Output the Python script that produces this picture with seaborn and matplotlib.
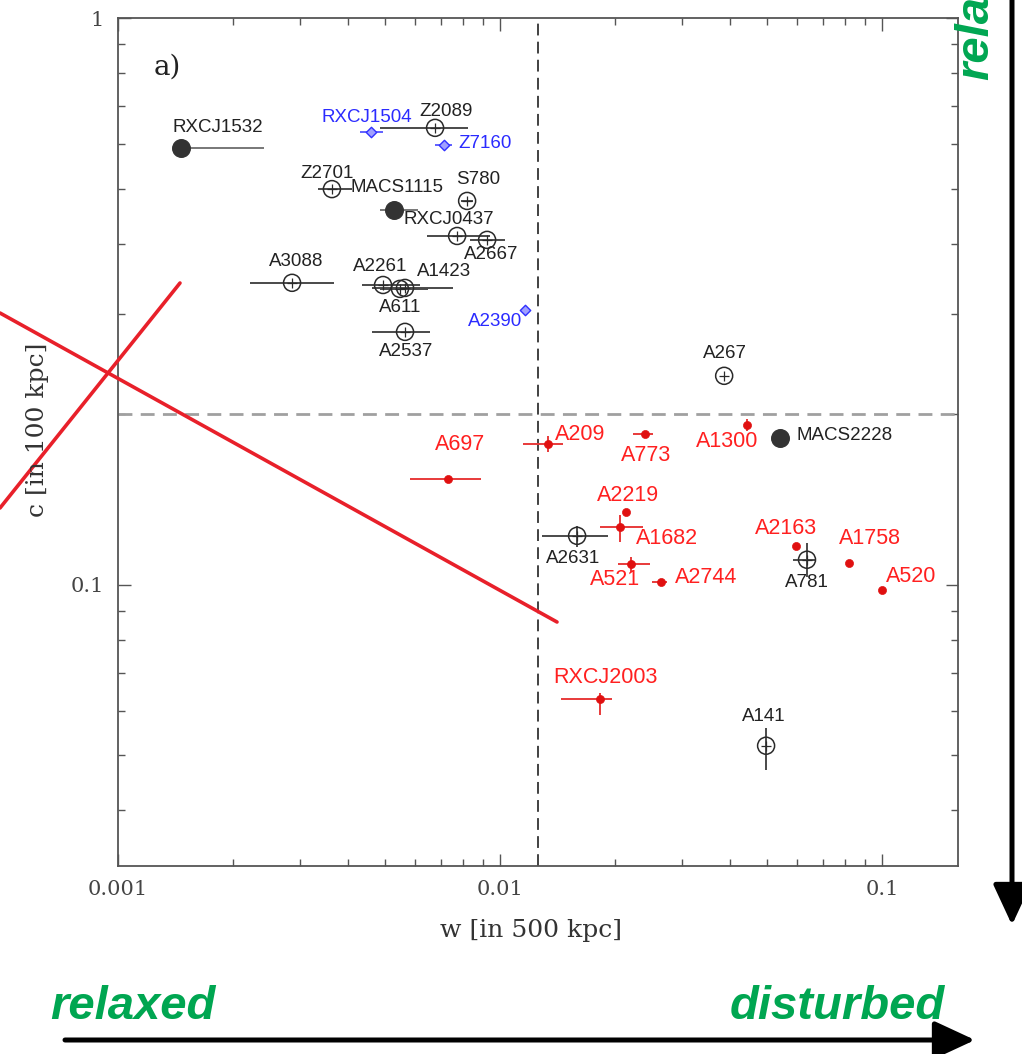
import numpy as np
import pandas as pd
import seaborn as sns
import matplotlib.pyplot as plt
from matplotlib.patches import FancyArrowPatch
from matplotlib.lines import Line2D
from matplotlib.ticker import FixedLocator, FixedFormatter, LogLocator, NullFormatter

# cluster data: w (centroid shift), c (concentration)
names = ["RXCJ1532", "RXCJ1504", "Z2089", "Z7160", "Z2701", "MACS1115", "S780",
         "RXCJ0437", "A2667", "A3088", "A2261", "A1423", "A611", "A2390", "A2537",
         "A267", "MACS2228", "A209", "A773", "A1300", "A697", "A2219", "A1682",
         "A2631", "A521", "A2744", "A2163", "A781", "A1758", "A520", "RXCJ2003", "A141"]
w = [0.00146, 0.00460, 0.00676, 0.00713, 0.00363, 0.00528, 0.00820,
     0.00772, 0.00925, 0.002855, 0.00494, 0.00564, 0.00547, 0.01163, 0.00564,
     0.0386, 0.0541, 0.01336, 0.02397, 0.0443, 0.00731, 0.02137, 0.02062,
     0.01591, 0.02202, 0.0264, 0.05955, 0.0636, 0.0820, 0.100, 0.01827, 0.0497]
c = [0.590, 0.629, 0.640, 0.597, 0.499, 0.4585, 0.4756,
     0.4125, 0.406, 0.341, 0.338, 0.334, 0.3327, 0.3055, 0.2794,
     0.2337, 0.1816, 0.1773, 0.1846, 0.1915, 0.1538, 0.1345, 0.1265,
     0.122, 0.1089, 0.1012, 0.1172, 0.1107, 0.1093, 0.098, 0.0629, 0.052]
w_lo = [0.00146, 0.00430, 0.00485, 0.00676, 0.00334, 0.00485, 0.00790,
        0.00644, 0.00835, 0.002215, 0.00435, 0.00462, 0.00485, 0.01163, 0.00462,
        0.0386, 0.0541, 0.01149, 0.0223, 0.0438, 0.00581, 0.02137, 0.01827,
        0.01288, 0.02037, 0.0250, 0.05955, 0.0585, 0.0820, 0.100, 0.01444, 0.0497]
w_hi = [0.00241, 0.00494, 0.00825, 0.00749, 0.00410, 0.00610, 0.00850,
        0.00941, 0.0103, 0.00368, 0.00617, 0.00753, 0.00648, 0.01163, 0.00656,
        0.0386, 0.0541, 0.01462, 0.02515, 0.0449, 0.00892, 0.02137, 0.02368,
        0.01917, 0.0247, 0.02735, 0.05955, 0.0668, 0.0820, 0.100, 0.01965, 0.0497]
c_lo = [0.590, 0.629, 0.640, 0.597, 0.499, 0.4585, 0.4756,
        0.4125, 0.406, 0.341, 0.338, 0.334, 0.3327, 0.3055, 0.2794,
        0.2337, 0.1816, 0.1716, 0.1846, 0.187, 0.1538, 0.1345, 0.119,
        0.1167, 0.1054, 0.1012, 0.1172, 0.1033, 0.1093, 0.098, 0.0590, 0.0472]
c_hi = [0.590, 0.629, 0.640, 0.597, 0.499, 0.4585, 0.4756,
        0.4125, 0.406, 0.341, 0.338, 0.334, 0.3327, 0.3055, 0.2794,
        0.2337, 0.1816, 0.183, 0.1846, 0.1963, 0.1538, 0.1345, 0.133,
        0.127, 0.112, 0.1012, 0.1172, 0.1186, 0.1093, 0.098, 0.0645, 0.0559]
kind = ["filled", "blue", "open", "blue", "open", "filled", "open",
        "open", "open", "open", "open", "open", "open", "blue", "open",
        "open", "filled", "red", "red", "red", "red", "red", "red",
        "open", "red", "red", "red", "open", "red", "red", "red", "open"]

df = pd.DataFrame({"name": names, "w": w, "c": c, "w_lo": w_lo, "w_hi": w_hi,
                   "c_lo": c_lo, "c_hi": c_hi, "kind": kind})

# label offsets in pixels (x right, y up) relative to the marker
label_off = {"RXCJ1532": (37, 20), "RXCJ1504": (-4, 15), "Z2089": (11, 16), "Z7160": (41, 1),
             "Z2701": (-5, 16), "MACS1115": (3, 22), "S780": (11, 21), "RXCJ0437": (-8, 16),
             "A2667": (4, -15), "A3088": (4, 21), "A2261": (-3, 18), "A1423": (39, 16),
             "A611": (0, -19), "A2390": (-30, -12), "A2537": (1, -20), "A267": (1, 22),
             "MACS2228": (63, 2), "A209": (32, 9), "A773": (1, -22), "A1300": (-20, -17),
             "A697": (12, 34), "A2219": (2, 16), "A1682": (47, -12), "A2631": (-4, -23),
             "A521": (-16, -16), "A2744": (45, 4), "A2163": (-10, 17), "A781": (0, -23),
             "A1758": (21, 24), "A520": (29, 13), "RXCJ2003": (5, 21), "A141": (-2, 29)}

sns.set_theme(style="ticks")
plt.rcParams["font.family"] = ["DejaVu Serif"]
plt.rcParams["lines.scale_dashes"] = False

W, H = 1022, 1054
fig = plt.figure(figsize=(W / 100, H / 100), dpi=100)
ax = fig.add_axes([118 / W, 1 - 866 / H, 840 / W, 848 / H])
ax.set_xscale("log")
ax.set_yscale("log")
ax.set_xlim(0.001, 0.158)
ax.set_ylim(0.0319, 1.0)

ax.axvline(0.0126, color="#333333", lw=1.3, ls=(0, (8.5, 4.5)), zorder=1)
ax.axhline(0.2, color="#a0a0a0", lw=2.0, ls=(0, (10, 6)), zorder=1)

ecol = {"open": "#4a4a4a", "filled": "#777777", "red": "#e83a3a", "blue": "#6060ff"}
for k, sub in df.groupby("kind"):
    ax.errorbar(sub["w"], sub["c"],
                xerr=[sub["w"] - sub["w_lo"], sub["w_hi"] - sub["w"]],
                yerr=[sub["c"] - sub["c_lo"], sub["c_hi"] - sub["c"]],
                fmt="none", ecolor=ecol[k], elinewidth=1.4, capsize=0, zorder=2)

op = df[df["kind"] == "open"]
sns.scatterplot(data=op, x="w", y="c", ax=ax, marker="o", s=150, facecolor="none",
                edgecolor="#2a2a2a", linewidth=1.1, zorder=3, legend=False)
sns.scatterplot(data=op, x="w", y="c", ax=ax, marker="+", s=60, color="#2a2a2a",
                linewidth=0.9, zorder=3, legend=False)
sns.scatterplot(data=df[df["kind"] == "filled"], x="w", y="c", ax=ax, marker="o", s=160,
                color="#333333", edgecolor="#333333", zorder=3, legend=False)
sns.scatterplot(data=df[df["kind"] == "red"], x="w", y="c", ax=ax, marker="o", s=34,
                color="#e01010", edgecolor="#e01010", zorder=3, legend=False)
sns.scatterplot(data=df[df["kind"] == "blue"], x="w", y="c", ax=ax, marker="D", s=28,
                facecolor="#a0a0ff", edgecolor="#3030ff", linewidth=1.0, zorder=3, legend=False)
ax.set_xlabel("")
ax.set_ylabel("")

tcol = {"open": "#222222", "filled": "#222222", "red": "#ff2020", "blue": "#2b2bff"}
tsize = {"open": 13.5, "filled": 13.5, "red": 15.5, "blue": 13.5}
for _, r in df.iterrows():
    dx, dy = label_off[r["name"]]
    ha = "center"
    if r["name"] == "MACS2228":
        ha = "left"
        dx = 16
    ax.annotate(r["name"], (r["w"], r["c"]), xytext=(dx * 0.72, dy * 0.72),
                textcoords="offset points", ha=ha, va="center",
                fontsize=tsize[r["kind"]], color=tcol[r["kind"]],
                family="Liberation Sans", zorder=4)

ax.xaxis.set_major_locator(FixedLocator([0.001, 0.01, 0.1]))
ax.xaxis.set_major_formatter(FixedFormatter(["0.001", "0.01", "0.1"]))
ax.yaxis.set_major_locator(FixedLocator([0.1, 1.0]))
ax.yaxis.set_major_formatter(FixedFormatter(["0.1", "1"]))
for a in (ax.xaxis, ax.yaxis):
    a.set_minor_locator(LogLocator(base=10, subs=np.arange(2, 10)))
    a.set_minor_formatter(NullFormatter())
ax.tick_params(which="both", direction="in", top=True, right=True, color="#555555",
               labelcolor="#444444", labelsize=15, width=1.0)
ax.tick_params(which="major", length=9, pad=10)
ax.tick_params(which="minor", length=5)
for sp in ax.spines.values():
    sp.set_color("#555555")
    sp.set_linewidth(1.3)

fig.text(531 / W, 1 - 930 / H, "w [in 500 kpc]", ha="center", va="center",
         fontsize=18, color="#333333")
fig.text(38 / W, 1 - 430 / H, "c [in 100 kpc]", ha="center", va="center",
         rotation=90, fontsize=18, color="#333333")
fig.text(167 / W, 1 - 67 / H, "a)", ha="center", va="center", fontsize=20, color="#222222")

# red cross drawn over the panel
red = "#e8202a"
fig.add_artist(Line2D([0, 557 / W], [1 - 313 / H, 1 - 622 / H], color=red, lw=2.6,
                      transform=fig.transFigure))
fig.add_artist(Line2D([0, 180 / W], [1 - 508 / H, 1 - 283 / H], color=red, lw=2.6,
                      transform=fig.transFigure))

# relaxed / disturbed arrows
green = "#00a651"
fig.text(50 / W, 1 - 1019 / H, "relaxed", ha="left", va="baseline", fontsize=34,
         color=green, family="Liberation Sans", weight="bold", style="italic")
fig.text(945 / W, 1 - 1019 / H, "disturbed", ha="right", va="baseline", fontsize=34,
         color=green, family="Liberation Sans", weight="bold", style="italic")
fig.text(976 / W, 1 - 80 / H, "relaxed", ha="center", va="bottom", rotation=90,
         fontsize=34, color=green, family="Liberation Sans", weight="bold", style="italic")
fig.add_artist(FancyArrowPatch((65 / W, 1 - 1040 / H), (975 / W, 1 - 1040 / H),
                               transform=fig.transFigure, color="black", lw=3.6,
                               arrowstyle="-|>,head_length=1.25,head_width=0.58",
                               mutation_scale=20, shrinkA=0, shrinkB=0))
fig.add_artist(FancyArrowPatch((1012 / W, 1.01), (1012 / W, 1 - 925 / H),
                               transform=fig.transFigure, color="black", lw=3.6,
                               arrowstyle="-|>,head_length=1.25,head_width=0.58",
                               mutation_scale=20, shrinkA=0, shrinkB=0))

fig.savefig("out.png", dpi=100)
